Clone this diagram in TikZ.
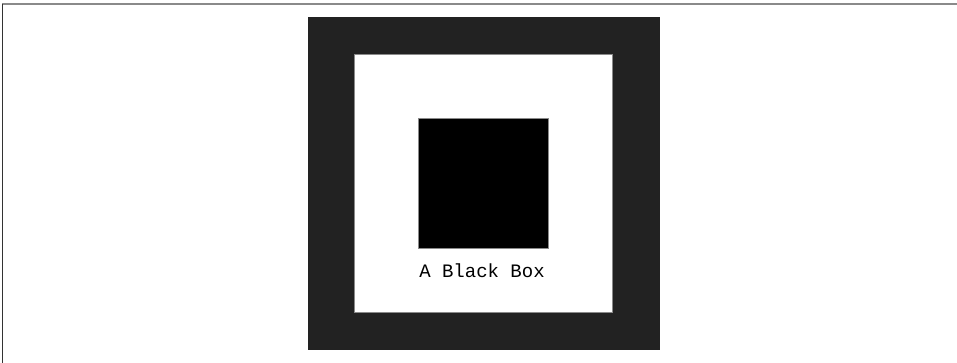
\documentclass[tikz,border=0pt]{standalone}
\usepackage{fontspec}
\newfontfamily\boxmono{Liberation Mono}
\definecolor{framedark}{HTML}{222222}
\definecolor{edgegray}{HTML}{8A8A8A}
\begin{document}
\begin{tikzpicture}[x=1pt,y=-1pt,
  panel/.style={draw=none,inner sep=0pt,outer sep=0pt},
  caption/.style={font=\boxmono\fontsize{19}{22}\selectfont,text=black,inner sep=0pt}]
\useasboundingbox (0,0) rectangle (957,363);
\fill[white] (0,0) rectangle (957,363);
% outer page rules
\draw[line width=2pt,color=edgegray] (2,4.2) -- (957,4.2);
\draw[line width=1.2pt,color=black!80] (2.6,4) -- (2.6,363);
% dark frame
\node[panel,fill=framedark,minimum width=352pt,minimum height=333pt,anchor=north west] (frame) at (308,17) {};
% white inner panel
\node[panel,fill=white,draw=edgegray,line width=0.8pt,minimum width=258pt,minimum height=258pt,anchor=north west] (inner) at (354,54) {};
% black box
\node[panel,fill=black,draw=edgegray,line width=0.8pt,minimum width=130pt,minimum height=130pt,anchor=north west] (bbox) at (418,118) {};
% caption
\node[caption,anchor=base] (label) at (482,277) {A Black Box};
\end{tikzpicture}
\end{document}
